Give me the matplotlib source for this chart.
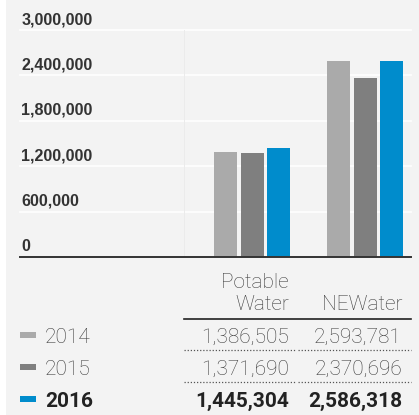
import matplotlib.pyplot as plt
import matplotlib.patches as mpatches
import numpy as np

# 数据
categories = ['Potable\nWater', 'NEWater']
years = ['2014', '2015', '2016']
values_2014 = [1386505, 2593781]
values_2015 = [1371690, 2370696]
values_2016 = [1445304, 2586318]
yticks = [0, 600000, 1200000, 1800000, 2400000, 3000000]

colors = ['#aaaaaa', '#7f7f7f', '#008ccc']
series = [values_2014, values_2015, values_2016]

W, H = 419, 415
fig = plt.figure(figsize=(W / 100, H / 100), dpi=100)
fig.patch.set_facecolor('white')


def fx(px):
    return px / W


def fy(py):
    return 1 - py / H


# 灰色背景
fig.patches.append(mpatches.Rectangle((fx(6), 0), 1 - fx(6), 1, transform=fig.transFigure,
                                      facecolor='#f3f3f3', edgecolor='none', zorder=-5))

ax = fig.add_axes([fx(20), fy(257), fx(391), (257 - 30) / H])
ax.set_facecolor('none')
ax.set_zorder(2)

x = np.arange(len(categories))
bar_w = 23 / 113
pitch = 26.5 / 113
for i, vals in enumerate(series):
    ax.bar(x + (i - 1) * pitch, vals, width=bar_w, color=colors[i], zorder=3)

ax.set_xlim(-(252 - 20) / 113, 1 + (411 - 365) / 113)
ax.set_ylim(0, 3000000)

for s in ax.spines.values():
    s.set_visible(False)
ax.set_xticks([])
ax.set_yticks([])

for t in yticks[1:]:
    ax.axhline(t, color='white', lw=1.2, zorder=1, clip_on=False)
ax.axhline(0, color='#333333', lw=1.4, zorder=4, clip_on=False)
# 淡色竖线
ax.axvline(-(252 - 184) / 113, color='#ebebeb', lw=0.7, zorder=1)
ax.axvline(1 + (411 - 365) / 113, color='#ebebeb', lw=0.7, zorder=1)

for t in yticks:
    ax.annotate(f'{t:,}', xy=(0, t), xycoords=('axes fraction', 'data'),
                xytext=(0.8, 4.2), textcoords='offset points', ha='left', va='baseline',
                fontsize=11.6, fontweight='bold', color='#333333', family='Liberation Sans')

# 表格
col_right = [289, 402]
tfont = dict(family='Roboto', fontsize=15)
gray = '#3c3c3c'
fig.text(fx(col_right[0]), fy(287.5), 'Potable', ha='right', va='baseline',
         color=gray, fontweight='light', **tfont)
fig.text(fx(col_right[0]), fy(310), 'Water', ha='right', va='baseline',
         color=gray, fontweight='light', **tfont)
fig.text(fx(col_right[1]), fy(310), 'NEWater', ha='right', va='baseline',
         color=gray, fontweight='light', **tfont)

fig.add_artist(plt.Line2D([fx(184), fx(411)], [fy(319), fy(319)], color='#222222', lw=1.2))
for yl in [350, 381.7]:
    fig.add_artist(plt.Line2D([fx(184), fx(296)], [fy(yl), fy(yl)], color='#555555',
                              lw=0.9, linestyle=(0, (1, 1.5))))
    fig.add_artist(plt.Line2D([fx(298), fx(411)], [fy(yl), fy(yl)], color='#555555',
                              lw=0.9, linestyle=(0, (1, 1.5))))

row_base = [343.3, 375, 406.5]
for i, (yr, vals) in enumerate(zip(years, series)):
    bold = i == 2
    c = '#222222' if bold else gray
    w = 'bold' if bold else 'light'
    fig.patches.append(mpatches.Rectangle((fx(20), fy(row_base[i] - 5)), fx(16), 6 / H,
                                          transform=fig.transFigure, facecolor=colors[i],
                                          edgecolor='none'))
    fig.text(fx(45), fy(row_base[i]), yr, ha='left', va='baseline', color=c, fontweight=w, **tfont)
    for j in range(2):
        fig.text(fx(col_right[j]), fy(row_base[i]), f'{vals[j]:,}', ha='right', va='baseline',
                 color=c, fontweight=w, **tfont)

plt.savefig('out.png', dpi=100)
